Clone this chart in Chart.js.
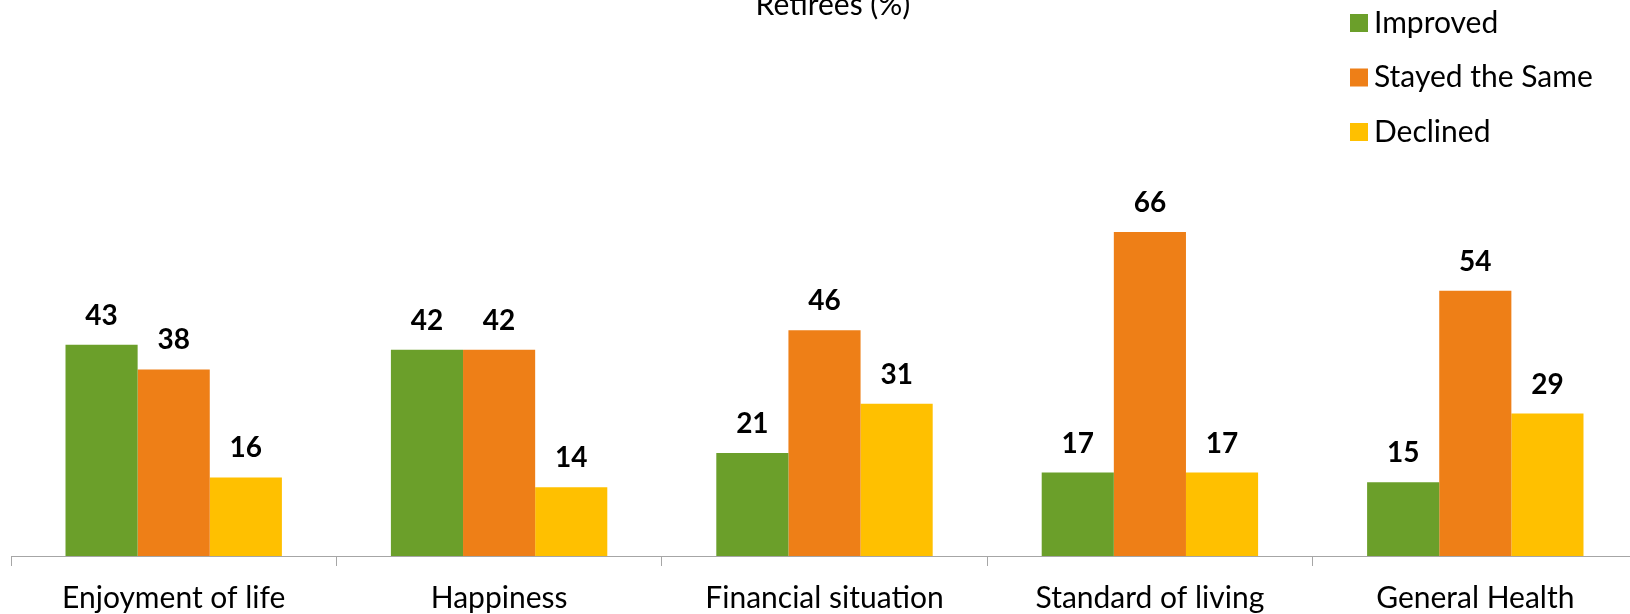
<!DOCTYPE html>
<html>
<head>
<meta charset="utf-8">
<script src="https://cdn.jsdelivr.net/npm/chart.js@4/dist/chart.umd.min.js"></script>
<style>
  html, body { margin: 0; padding: 0; background: #ffffff; overflow: hidden; }
  #wrap { position: relative; width: 1640px; height: 614px; }
</style>
</head>
<body>
<div id="wrap"><canvas id="c" width="1640" height="614"></canvas></div>
<script>
const categories = ["Enjoyment of life", "Happiness", "Financial situation", "Standard of living", "General Health"];
const improved = [43, 42, 21, 17, 15];
const stayedSame = [38, 42, 46, 66, 54];
const declined = [16, 14, 31, 17, 29];
const seriesNames = ["Improved", "Stayed the Same", "Declined"];
const seriesColors = ["#6B9F2A", "#EE7F17", "#FFC000"];
const chartTitle = "Retirees (%)";

const FONT = "Lato, 'Open Sans', sans-serif";

const overlayPlugin = {
  id: 'overlay',
  afterDatasetsDraw(chart) {
    const ctx = chart.ctx;
    ctx.save();
    // data labels
    ctx.font = "bold 28px " + FONT;
    ctx.fillStyle = "#000000";
    ctx.textAlign = "center";
    ctx.textBaseline = "alphabetic";
    chart.data.datasets.forEach((ds, i) => {
      const meta = chart.getDatasetMeta(i);
      meta.data.forEach((bar, j) => {
        ctx.fillText(String(ds.data[j]), bar.x, bar.y - 20);
      });
    });
    // title
    ctx.font = "30px " + FONT;
    ctx.fillText(chartTitle, 833, 15);
    // legend
    ctx.textAlign = "left";
    chart.data.datasets.forEach((ds, i) => {
      const top = 14 + i * 54.5;
      ctx.fillStyle = ds.backgroundColor;
      ctx.fillRect(1350, top, 18, 18);
      ctx.fillStyle = "#000000";
      ctx.fillText(ds.label, 1374, top + 18.5);
    });
    ctx.restore();
  }
};

new Chart(document.getElementById('c'), {
  type: 'bar',
  data: {
    labels: categories,
    datasets: [
      { label: seriesNames[0], data: improved, backgroundColor: seriesColors[0] },
      { label: seriesNames[1], data: stayedSame, backgroundColor: seriesColors[1] },
      { label: seriesNames[2], data: declined, backgroundColor: seriesColors[2] }
    ]
  },
  options: {
    responsive: false,
    devicePixelRatio: 1,
    animation: false,
    layout: { padding: { left: 11, right: 2, top: 65, bottom: 0 } },
    datasets: { bar: { categoryPercentage: 0.665, barPercentage: 1.0 } },
    plugins: {
      legend: { display: false },
      title: { display: false },
      tooltip: { enabled: false }
    },
    scales: {
      x: {
        afterFit(scale) { scale.height = 58; },
        grid: { display: true, drawOnChartArea: false, drawTicks: true, tickLength: 10, color: "#A6A6A6", offset: true },
        border: { display: true, color: "#A6A6A6", width: 1 },
        ticks: { color: "#000000", font: { family: FONT, size: 30 }, padding: 14, maxRotation: 0, autoSkip: false }
      },
      y: {
        display: false,
        min: 0,
        max: 100
      }
    }
  },
  plugins: [overlayPlugin]
});
</script>
</body>
</html>
